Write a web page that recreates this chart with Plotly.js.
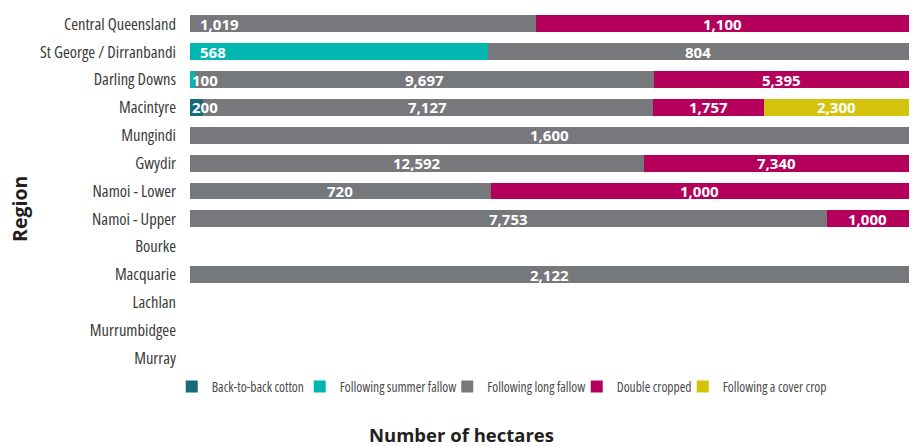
<!DOCTYPE html>
<html>
<head>
<meta charset="utf-8">
<script src="https://cdn.plot.ly/plotly-3.0.1.min.js"></script>
<style>
body{margin:0;padding:0;background:#fff;}
#chart{width:914px;height:446px;}
#chart .ytick text, #chart .legendtext, #chart g[class*="legend"] text { font-stretch: 75%; }
</style>
</head>
<body>
<div id="chart"></div>
<script>
var regions = ["Central Queensland","St George / Dirranbandi","Darling Downs","Macintyre","Mungindi","Gwydir","Namoi - Lower","Namoi - Upper","Bourke","Macquarie","Lachlan","Murrumbidgee","Murray"];
var backToBack   = [null, null, null, 200, null, null, null, null, null, null, null, null, null];
var summerFallow = [null, 568, 100, null, null, null, null, null, null, null, null, null, null];
var longFallow   = [1019, 804, 9697, 7127, 1600, 12592, 720, 7753, null, 2122, null, null, null];
var doubleCropped= [1100, null, 5395, 1757, null, 7340, 1000, 1000, null, null, null, null, null];
var coverCrop    = [null, null, null, 2300, null, null, null, null, null, null, null, null, null];
var seriesNames = ["Back-to-back cotton","Following summer fallow","Following long fallow","Double cropped","Following a cover crop"];
var seriesColors = ["#176a7b","#00b6b0","#77787b","#b5005b","#d4c30c"];

var allSeries = [backToBack, summerFallow, longFallow, doubleCropped, coverCrop];
// label placement style: rows whose first label sits at the bar start
var startLabelRows = [0, 1, 2, 3];
var legendX = [-0.0254, 0.1526, 0.3578, 0.5379, 0.6853];
var legendIds = ["legend","legend2","legend3","legend4","legend5"];

function fmt(v){ return v==null ? "" : v.toLocaleString("en-US"); }

var data = allSeries.map(function(vals, s){
  return {
    type:"bar", orientation:"h", name:seriesNames[s], y:regions, x:vals,
    marker:{color:seriesColors[s], line:{width:0}},
    textposition:"none", hoverinfo:"none", legend:legendIds[s]
  };
});

var annotations = [];
regions.forEach(function(r,i){
  var total = allSeries.reduce(function(acc,a){ return acc + (a[i]||0); }, 0);
  if (!total) return;
  var cum = 0, first = true;
  allSeries.forEach(function(a){
    var v = a[i];
    if (v==null) return;
    var start = cum/total*100, end = (cum+v)/total*100;
    cum += v;
    var atStart = first && startLabelRows.indexOf(i)>=0;
    var small = v/total < 0.05;
    annotations.push({
      x: atStart ? start : (start+end)/2, y:r, xref:"x", yref:"y",
      text:"<b>"+fmt(v)+"</b>", showarrow:false,
      xanchor: atStart ? "left" : "center", yanchor:"middle",
      xshift: atStart ? (small ? 0 : 8) : 0,
      font:{family:"Open Sans, sans-serif", size:15, color:"#ffffff"}
    });
    first = false;
  });
});
annotations.push(
  {text:"<b>Region</b>", xref:"paper", yref:"paper", x:-0.238, y:0.45, textangle:-90,
   showarrow:false, font:{family:"Open Sans, sans-serif", size:19.5, color:"#231f20"}, xanchor:"center", yanchor:"middle"},
  {text:"<b>Number of hectares</b>", xref:"paper", yref:"paper", x:0.378, y:-0.172,
   showarrow:false, font:{family:"Open Sans, sans-serif", size:18.5, color:"#231f20"}, xanchor:"center", yanchor:"middle"}
);

var layout = {
  width:914, height:446,
  margin:{l:190, r:5, t:10, b:74},
  barmode:"stack", barnorm:"percent", bargap:0.39,
  paper_bgcolor:"#fff", plot_bgcolor:"#fff",
  font:{family:"Open Sans, sans-serif", color:"#3a3a3a"},
  xaxis:{visible:false, range:[0,100], fixedrange:true},
  yaxis:{autorange:"reversed", categoryorder:"array", categoryarray:regions,
         showgrid:false, zeroline:false, showline:false, ticks:"",
         tickfont:{family:"Open Sans, sans-serif", size:16.5, color:"#3a3a3a"}, ticklabelstandoff:13},
  showlegend:true,
  annotations:annotations
};
legendIds.forEach(function(id,k){
  layout[id] = {orientation:"h", x:legendX[k], xanchor:"left", y:-0.041, yanchor:"middle",
    font:{family:"Open Sans, sans-serif", size:13.5, color:"#4a4a4a"},
    itemwidth:30, bgcolor:"rgba(0,0,0,0)", borderwidth:0};
});
Plotly.newPlot("chart", data, layout, {displayModeBar:false, staticPlot:true}).then(function(gd){
  var texts = gd.querySelectorAll("g.infolayer g[class^='legend'] text");
  texts.forEach(function(t){ t.style.fontStretch = "75%"; });
});
</script>
</body>
</html>
